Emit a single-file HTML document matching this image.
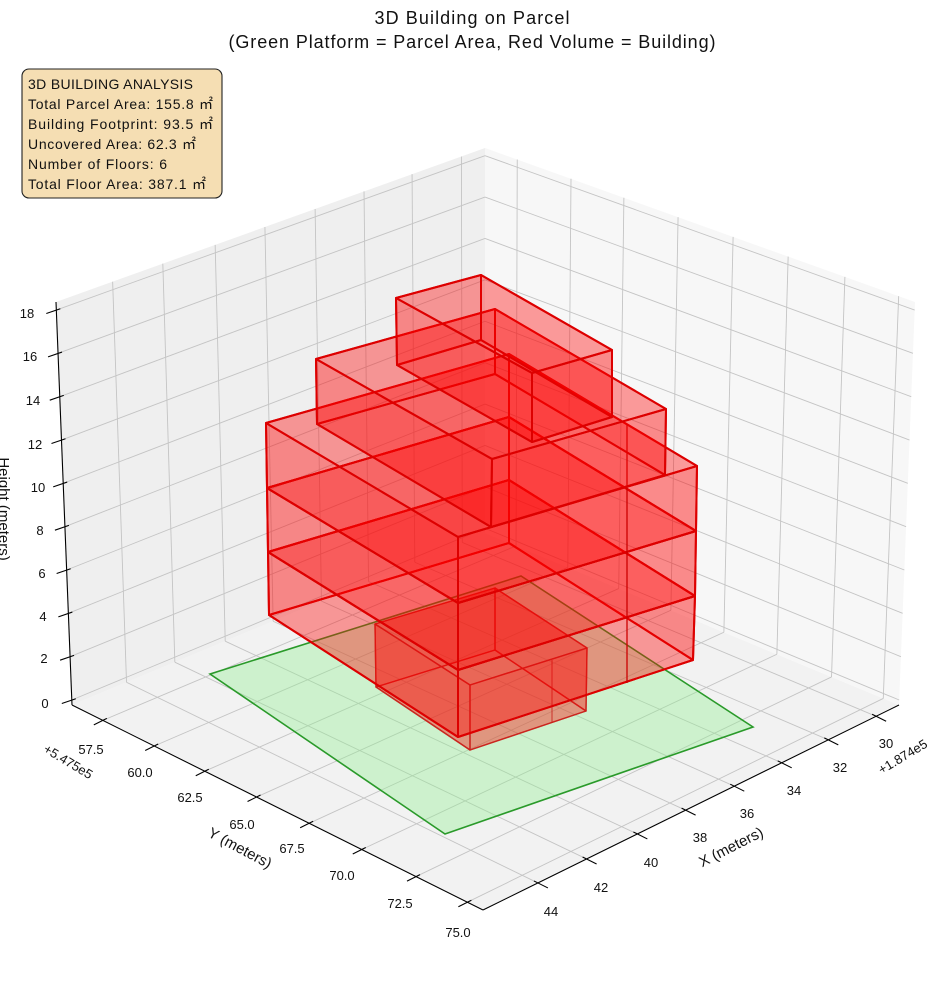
<!DOCTYPE html>
<html><head><meta charset="utf-8"><style>
html,body{margin:0;padding:0;background:#fff;}
svg{display:block;font-family:"Liberation Sans","DejaVu Sans",sans-serif;}
</style></head><body>
<svg id="s" width="944" height="992" viewBox="0 0 944 992" xmlns="http://www.w3.org/2000/svg">
<g id="panes"></g>
<g id="grid" stroke="#c4c4c4" stroke-width="0.9" fill="none"></g>
<g id="axes" stroke="#000" stroke-width="1.1" fill="none"></g>
<polygon points="210,674 521,576 753,727 445,834" fill="rgb(144,238,144)" fill-opacity="0.38" stroke="#2a9a2a" stroke-width="1.6"/>
<g id="bld"></g>
<g font-size="13" fill="#111" text-anchor="middle">
<text x="27" y="318">18</text><text x="30" y="361">16</text><text x="33" y="405">14</text><text x="35" y="449">12</text><text x="38" y="492">10</text><text x="40" y="535">8</text><text x="42" y="578">6</text><text x="43" y="621">4</text><text x="44" y="663">2</text><text x="45" y="708">0</text>
<text x="91" y="754">57.5</text><text x="140" y="777">60.0</text><text x="190" y="802">62.5</text><text x="242" y="829">65.0</text><text x="292" y="853">67.5</text><text x="342" y="880">70.0</text><text x="400" y="908">72.5</text><text x="458" y="937">75.0</text>
<text x="886" y="748">30</text><text x="840" y="772">32</text><text x="794" y="795">34</text><text x="747" y="818">36</text><text x="700" y="842">38</text><text x="651" y="867">40</text><text x="601" y="892">42</text><text x="551" y="916">44</text>
<text transform="translate(68,762) rotate(31)" y="4">+5.475e5</text>
<text transform="translate(903,757) rotate(-31)" y="4">+1.874e5</text>
</g>
<g font-size="15" fill="#111" text-anchor="middle">
<text transform="translate(240,848) rotate(28)" y="5">Y (meters)</text>
<text transform="translate(731,847) rotate(-27)" y="5">X (meters)</text>
<text transform="translate(-1,509) rotate(90)">Height (meters)</text>
</g>
<g font-size="18" fill="#111" text-anchor="middle">
<text x="472" y="24" textLength="195">3D Building on Parcel</text>
<text x="472" y="48" textLength="487">(Green Platform = Parcel Area, Red Volume = Building)</text>
</g>
<rect x="22" y="69" width="200" height="129" rx="7" fill="#f5deb3" stroke="#222" stroke-width="1.1"/>
<g font-size="14" fill="#111">
<text x="28" y="89" textLength="165">3D BUILDING ANALYSIS</text>
<text x="28" y="109" textLength="185">Total Parcel Area: 155.8 ㎡</text>
<text x="28" y="129" textLength="185">Building Footprint: 93.5 ㎡</text>
<text x="28" y="149" textLength="168">Uncovered Area: 62.3 ㎡</text>
<text x="28" y="169" textLength="139">Number of Floors: 6</text>
<text x="28" y="189" textLength="178">Total Floor Area: 387.1 ㎡</text>
</g>
</svg>
<script>
(function(){
var NS="http://www.w3.org/2000/svg";
function el(p,t,a){var e=document.createElementNS(NS,t);for(var k in a)e.setAttribute(k,a[k]);p.appendChild(e);return e;}
function lerp(a,b,t){return [a[0]+(b[0]-a[0])*t,a[1]+(b[1]-a[1])*t];}
var L=[72,705],Lt=[56,302],B=[485,533],Bt=[485,148],R=[899,705],Rt=[915,302],F=[483,910];
var panes=document.getElementById('panes'),grid=document.getElementById('grid'),axes=document.getElementById('axes');
function poly(p,pts,attrs){attrs.points=pts.map(function(q){return q[0].toFixed(1)+','+q[1].toFixed(1)}).join(' ');return el(p,'polygon',attrs);}
poly(panes,[L,B,R,F],{fill:'#f2f2f2'});
poly(panes,[L,Lt,Bt,B],{fill:'#efefef'});
poly(panes,[B,Bt,Rt,R],{fill:'#f7f7f7'});
function line(p,a,b,attrs){attrs=attrs||{};attrs.x1=a[0];attrs.y1=a[1];attrs.x2=b[0];attrs.y2=b[1];return el(p,'line',attrs);}
var xs=[.132,.249,.371,.487,.604,.718,.83,.945];
var ys=[.075,.2,.323,.449,.577,.705,.837,.962];
var zs=[];for(var z=0;z<=18;z+=2)zs.push((z+0.23)/18.6);
ys.forEach(function(t){line(grid,lerp(L,F,t),lerp(B,R,t));});
xs.forEach(function(s){line(grid,lerp(L,B,s),lerp(F,R,s));});
zs.forEach(function(u){line(grid,lerp(L,Lt,u),lerp(B,Bt,u));});
xs.forEach(function(s){line(grid,lerp(L,B,s),lerp(Lt,Bt,s));});
zs.forEach(function(u){line(grid,lerp(B,Bt,u),lerp(R,Rt,u));});
ys.forEach(function(t){line(grid,lerp(B,R,t),lerp(Bt,Rt,t));});
line(axes,L,Lt);line(axes,L,F);line(axes,F,R);
zs.forEach(function(u){var p=lerp(L,Lt,u);line(axes,[p[0]-10,p[1]+3.5],[p[0]+4,p[1]-1.3]);});
ys.forEach(function(t){var p=lerp(L,F,t);line(axes,[p[0]-9,p[1]+4.5],[p[0]+4,p[1]-2]);});
xs.forEach(function(s){var p=lerp(F,R,s);line(axes,[p[0]-4,p[1]-2],[p[0]+10,p[1]+5]);});
var g=document.getElementById('bld');
function box(T,D,stroke,sw,op){
 var faces=[[D[0],D[1],D[2],D[3]],[D[0],D[1],T[1],T[0]],[D[1],D[2],T[2],T[1]],[D[0],D[3],T[3],T[0]],[D[3],D[2],T[2],T[3]],[T[0],T[1],T[2],T[3]]];
 var fo=[0.17,0.25,0.25,0.25,0.25,0.17];
 faces.forEach(function(f,i){poly(g,f,{fill:'#ff0000','fill-opacity':fo[i],stroke:stroke,'stroke-width':sw,'stroke-opacity':op,'stroke-linejoin':'round'});});
}
var G={T:[[375,624],[495,588],[587,648],[470,685]],D:[[376,687],[495,650],[586,711],[470,750]]};
box(G.T,G.D,'#c8201a',1.4,0.8);
line(g,[552,660],[552,723],{stroke:'#c8201a','stroke-width':1.2,'stroke-opacity':0.7});
var f2T=[[268,552],[509,480],[695,596],[458,670]],f2D=[[269,615],[509,543],[693,660],[458,737]];
var f3T=[[267,488],[509,417],[696,531],[458,603]];
var f4T=[[266,423],[509,354],[697,466],[458,537]];
box(f2T,f2D,'#dd0000',2,1);
box(f3T,f2T,'#dd0000',2,1);
box(f4T,f3T,'#dd0000',2,1);
line(g,[627,424],[627,683],{stroke:'#cc0000','stroke-width':1.3});
box([[316,359],[495,309],[666,409],[492,459]],[[317,424],[495,374],[665,475],[491,527]],'#dd0000',2,1);
box([[396,298],[481,275],[612,350],[532,373]],[[397,365],[481,340],[612,417],[532,442]],'#dd0000',2,1);
})();
</script>
</body></html>
